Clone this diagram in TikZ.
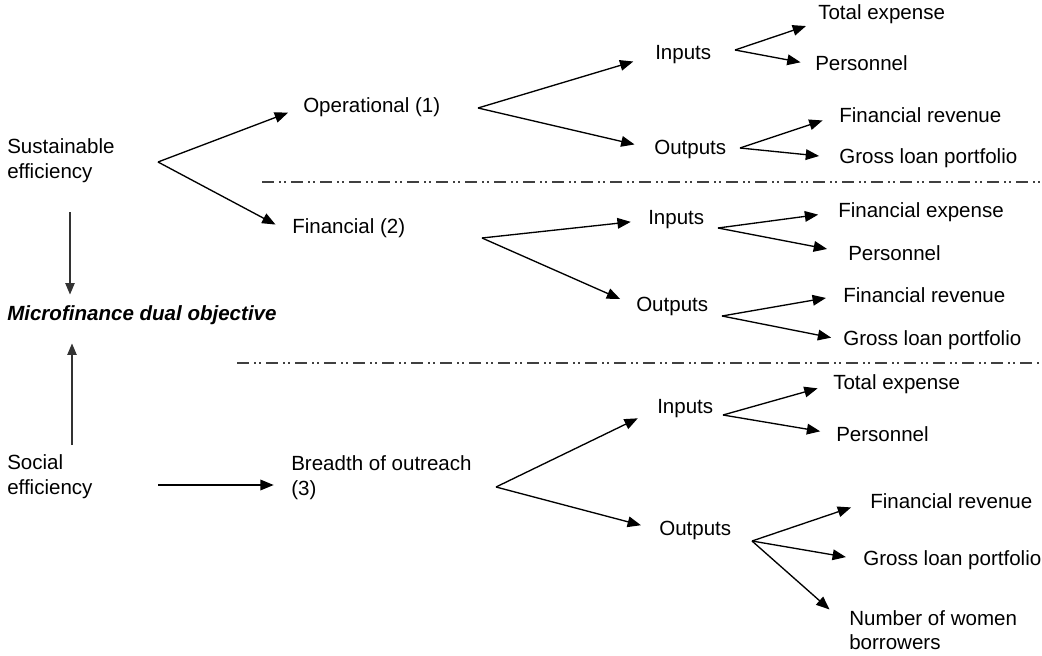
\documentclass[tikz,border=0pt]{standalone}
\usepackage{fontspec}
\setmainfont{Liberation Sans}
\usetikzlibrary{arrows.meta}
\begin{document}
\begin{tikzpicture}[x=0.75pt,y=-0.75pt,
  lbl/.style={anchor=west,inner sep=0pt,align=left,font=\fontsize{15.4}{18.5}\selectfont},
  arr/.style={line width=1pt,-{Triangle[length=10pt,width=8pt]},shorten >=13pt},
  varr/.style={line width=0.8pt,draw=black!80,-{Triangle[length=8.5pt,width=7pt]}},
  sep/.style={line width=1.1pt,draw=black!75,dash pattern=on 9pt off 3.75pt on 1.5pt off 2.25pt on 1.5pt off 3.75pt}]
\useasboundingbox (0,0) rectangle (1042,656);
% main nodes
\node[lbl] (sus) at (7,161) {Sustainable\\efficiency};
\node[lbl,font=\fontsize{15.4}{18.5}\selectfont\bfseries\itshape] (mdo) at (7,315) {Microfinance dual objective};
\node[lbl] (soc) at (7,477) {Social\\efficiency};
\node[lbl] (op) at (303,107) {Operational (1)};
\node[lbl] (fin) at (292,228) {Financial (2)};
\node[lbl] (bre) at (291,478) {Breadth of outreach\\(3)};
% level 2
\node[lbl] (in1) at (655,55) {Inputs};
\node[lbl] (out1) at (654,149) {Outputs};
\node[lbl] (in2) at (648,220) {Inputs};
\node[lbl] (out2) at (636,306) {Outputs};
\node[lbl] (in3) at (657,409) {Inputs};
\node[lbl] (out3) at (659,530) {Outputs};
% leaves
\node[lbl] (a1) at (818,14) {Total expense};
\node[lbl] (a2) at (815,63) {Personnel};
\node[lbl] (b1) at (839,115) {Financial revenue};
\node[lbl] (b2) at (839,158) {Gross loan portfolio};
\node[lbl] (c1) at (838,212) {Financial expense};
\node[lbl] (c2) at (848,253) {Personnel};
\node[lbl] (d1) at (843,295) {Financial revenue};
\node[lbl] (d2) at (843,340) {Gross loan portfolio};
\node[lbl] (e1) at (833,384) {Total expense};
\node[lbl] (e2) at (836,434) {Personnel};
\node[lbl] (g1) at (870,501) {Financial revenue};
\node[lbl] (g2) at (863,560) {Gross loan portfolio};
\node[lbl] (g3) at (849,630) {Number of women\\borrowers};
% fork points and free ends
\coordinate (fs) at (158,162);
\coordinate (fo) at (478,108);
\coordinate (ff) at (482,238);
\coordinate (fb) at (496,487);
\coordinate (fi1) at (735,50);
\coordinate (fo1) at (740,148);
\coordinate (fi2) at (718,228);
\coordinate (fo2) at (722,316);
\coordinate (fi3) at (723,415);
\coordinate (fo3) at (752,541);
\coordinate (vs1) at (70,212);
\coordinate (vs2) at (72,445);
\coordinate (hs) at (158,485);
% separators
\coordinate (s1a) at (262,182); \coordinate (s1b) at (1042,182);
\coordinate (s2a) at (237,363); \coordinate (s2b) at (1042,363);
\draw[sep] (s1a) -- (s1b);
\draw[sep] (s2a) -- (s2b);
% arrows
\draw[arr,shorten >=12pt] (fs) -- (op.west);
\draw[arr,shorten >=14pt] (fs) -- ([yshift=-4pt]fin.west);
\draw[varr] (vs1) -- ([yshift=8pt]vs1 |- mdo.north);
\draw[varr] (vs2) -- ([yshift=-14pt]vs2 |- mdo.south);
\draw[arr,shorten >=13pt] (hs) -- (bre.west |- hs);
\draw[arr,shorten >=17pt] (fo) -- (in1.west);
\draw[arr,shorten >=15pt] (fo) -- (out1.west);
\draw[arr,shorten >=13pt] (ff) -- (in2.west);
\draw[arr,shorten >=13pt] (ff) -- (out2.west);
\draw[arr,shorten >=16pt] (fb) -- (in3.west);
\draw[arr,shorten >=14pt] (fb) -- (out3.west);
\draw[arr,shorten >=9.5pt] (fi1) -- ([shift={(0,8)}]a1.west);
\draw[arr,shorten >=11pt] (fi1) -- ([shift={(0,2)}]a2.west);
\draw[arr] (fo1) -- (b1.west);
\draw[arr,shorten >=15pt] (fo1) -- (b2.west);
\draw[arr,shorten >=15pt] (fi2) -- (c1.west);
\draw[arr,shorten >=16pt] (fi2) -- (c2.west);
\draw[arr,shorten >=13pt] (fo2) -- (d1.west);
\draw[arr,shorten >=9pt] (fo2) -- (d2.west);
\draw[arr,shorten >=12pt] (fi3) -- (e1.west);
\draw[arr,shorten >=12pt] (fi3) -- (e2.west);
\draw[arr,shorten >=15pt] (fo3) -- (g1.west);
\draw[arr,shorten >=13pt] (fo3) -- (g2.west);
\draw[arr,shorten >=9.5pt] (fo3) -- ([shift={(-10,8)}]g3.north west);
\end{tikzpicture}
\end{document}
